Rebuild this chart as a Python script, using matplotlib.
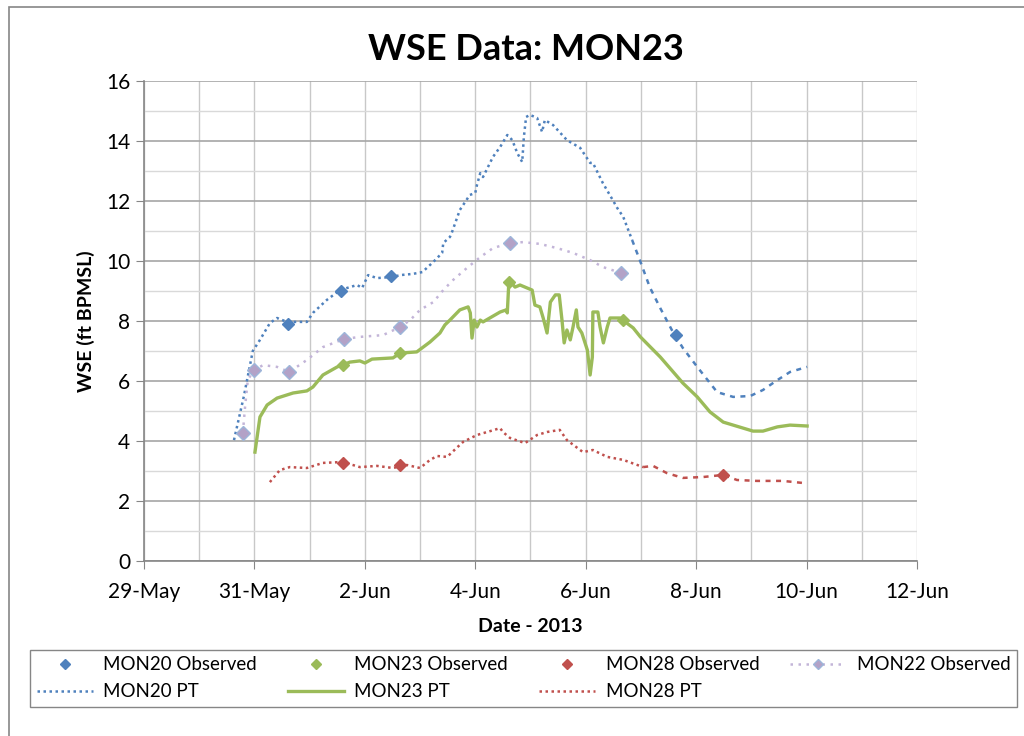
import numpy as np
import matplotlib
matplotlib.use("Agg")
import matplotlib.pyplot as plt
import matplotlib.dates as mdates
from matplotlib.ticker import FuncFormatter, MultipleLocator
from matplotlib.patches import Rectangle

plt.rcParams['font.family'] = ['Lato', 'DejaVu Sans']

# x values are days after 29-May-2013 00:00
base = np.datetime64('2013-05-29T00:00')

mon20_obs_x = [2.61, 3.57, 4.47, 9.64]
mon20_obs_y = [7.9, 9.0, 9.5, 7.53]
mon23_obs_x = [3.60, 4.64, 6.61, 8.68]
mon23_obs_y = [6.53, 6.93, 9.3, 8.03]
mon28_obs_x = [3.60, 4.64, 10.49]
mon28_obs_y = [3.27, 3.2, 2.87]
mon22_obs_x = [1.79, 1.99, 2.63, 3.62, 4.64, 6.63, 8.64]
mon22_obs_y = [4.27, 6.37, 6.3, 7.4, 7.8, 10.6, 9.6]

# smoothed connecting line of MON22 observed
mon22_line_x = [1.79, 1.83, 1.88, 1.99, 2.16, 2.41, 2.63, 2.95, 3.24, 3.62, 3.91, 4.33,
                4.64, 4.82, 5.00, 5.24, 5.42, 5.60, 5.85, 6.09, 6.32, 6.63, 6.87, 7.17,
                7.48, 7.77, 8.08, 8.31, 8.64]
mon22_line_y = [4.27, 5.13, 6.03, 6.37, 6.53, 6.47, 6.3, 6.7, 7.13, 7.4, 7.47, 7.53,
                7.8, 8.03, 8.37, 8.63, 9.03, 9.37, 9.77, 10.13, 10.43, 10.6, 10.63, 10.57,
                10.43, 10.27, 10.03, 9.8, 9.6]

mon20_pt_x = [1.63, 1.81, 1.97, 2.10, 2.28, 2.41, 2.59, 2.95, 3.06, 3.31, 3.55, 3.73,
              3.86, 3.95, 4.06, 4.22, 4.51, 4.64, 4.87, 5.04, 5.24, 5.40, 5.42, 5.54,
              5.58, 5.72, 5.90, 6.00, 6.03, 6.09, 6.14, 6.32, 6.45, 6.58, 6.67, 6.76,
              6.85, 6.88, 6.92, 6.99, 7.12, 7.21, 7.26, 7.41, 7.66, 7.90, 8.08, 8.13,
              8.31, 8.49, 8.57, 8.68, 8.84, 8.98, 9.16, 9.35, 9.56, 9.76, 10.02, 10.38,
              10.67, 10.98, 11.21, 11.47, 11.70, 12.01]
mon20_pt_y = [4.03, 5.5, 7.0, 7.37, 7.93, 8.1, 7.97, 7.97, 8.27, 8.7, 9.03, 9.13,
              9.2, 9.1, 9.53, 9.43, 9.47, 9.53, 9.57, 9.63, 9.97, 10.27, 10.6, 10.8,
              10.97, 11.7, 12.2, 12.27, 12.53, 12.93, 12.8, 13.47, 13.8, 14.2, 14.03, 13.6,
              13.3, 14.13, 14.8, 14.87, 14.77, 14.3, 14.7, 14.53, 14.03, 13.77, 13.27, 13.27,
              12.6, 12.03, 11.77, 11.47, 10.7, 10.03, 9.13, 8.43, 7.7, 7.1, 6.47, 5.63,
              5.47, 5.5, 5.7, 6.03, 6.3, 6.47]

mon23_pt_x = [2.01, 2.10, 2.23, 2.41, 2.70, 2.95, 3.06, 3.24, 3.50, 3.73, 3.91, 4.00,
              4.13, 4.51, 4.64, 4.94, 5.18, 5.36, 5.45, 5.54, 5.72, 5.87, 5.91, 5.94,
              5.98, 6.03, 6.09, 6.14, 6.45, 6.56, 6.58, 6.61, 6.72, 6.81, 7.03, 7.08,
              7.17, 7.23, 7.30, 7.36, 7.45, 7.52, 7.57, 7.61, 7.66, 7.72, 7.77, 7.83,
              7.86, 7.93, 8.03, 8.08, 8.12, 8.13, 8.22, 8.26, 8.32, 8.39, 8.44, 8.62,
              8.86, 8.99, 9.35, 9.76, 10.02, 10.25, 10.49, 10.85, 11.03, 11.21, 11.47,
              11.70, 12.01]
mon23_pt_y = [3.63, 4.8, 5.2, 5.43, 5.6, 5.67, 5.8, 6.2, 6.47, 6.63, 6.67, 6.6,
              6.73, 6.77, 6.93, 6.97, 7.3, 7.6, 7.87, 8.03, 8.37, 8.47, 8.27, 7.43,
              8.03, 7.8, 8.03, 7.97, 8.3, 8.37, 8.27, 9.37, 9.13, 9.2, 9.03, 8.53,
              8.47, 8.1, 7.6, 8.63, 8.87, 8.87, 8.03, 7.27, 7.7, 7.37, 7.8, 8.37,
              7.8, 7.6, 7.03, 6.2, 6.8, 8.3, 8.3, 7.8, 7.27, 7.8, 8.1, 8.1,
              7.77, 7.47, 6.8, 5.93, 5.47, 4.97, 4.63, 4.43, 4.33, 4.33, 4.47,
              4.53, 4.5]

mon28_pt_x = [2.28, 2.46, 2.64, 2.95, 3.24, 3.60, 3.91, 4.22, 4.51, 4.76, 5.00, 5.18,
              5.31, 5.49, 5.72, 5.78, 6.03, 6.27, 6.45, 6.50, 6.63, 6.90, 7.12, 7.30,
              7.53, 7.66, 7.95, 8.13, 8.39, 8.68, 9.04, 9.22, 9.47, 9.76, 10.13, 10.49,
              10.74, 11.10, 11.57, 11.94]
mon28_pt_y = [2.63, 3.03, 3.13, 3.1, 3.27, 3.3, 3.13, 3.17, 3.1, 3.2, 3.1, 3.37,
              3.5, 3.47, 3.87, 3.97, 4.2, 4.33, 4.43, 4.3, 4.1, 3.93, 4.2, 4.3,
              4.37, 4.03, 3.63, 3.7, 3.47, 3.37, 3.13, 3.17, 2.93, 2.77, 2.8, 2.87,
              2.7, 2.67, 2.67, 2.6]

# where the logger record gets sparse and the dotted line looks dashed
mon20_split = 52
mon28_split = 30

tick_days = [0, 2, 4, 6, 8, 10, 12, 14]


def to_dt(days):
    return base + np.round(np.array(days) * 1440).astype('timedelta64[m]')


blue = '#4F81BD'
green = '#9BBB59'
red = '#C0504D'
purple = '#B3A2C7'

fig = plt.figure(figsize=(10.24, 7.36), dpi=100)
ax = fig.add_axes([144 / 1024, 1 - 561 / 736, 773 / 1024, 480 / 736])

ax.set_axisbelow(True)

# PT lines
x20 = to_dt(mon20_pt_x)
l20, = ax.plot(x20[:mon20_split + 1], mon20_pt_y[:mon20_split + 1], color=blue, lw=1.8,
               linestyle=(0, (1, 1.4)), label='MON20 PT')
ax.plot(x20[mon20_split:], mon20_pt_y[mon20_split:], color=blue, lw=1.8,
        linestyle=(0, (2, 2.2)))
l23, = ax.plot(to_dt(mon23_pt_x), mon23_pt_y, color=green, lw=2.4, label='MON23 PT')
x28 = to_dt(mon28_pt_x)
l28, = ax.plot(x28[:mon28_split + 1], mon28_pt_y[:mon28_split + 1], color=red, lw=1.8,
               linestyle=(0, (1, 1.4)), label='MON28 PT')
ax.plot(x28[mon28_split:], mon28_pt_y[mon28_split:], color=red, lw=1.8,
        linestyle=(0, (2, 2.2)))
ax.plot(to_dt(mon22_line_x), mon22_line_y, color='#C3B5D8', lw=1.8,
        linestyle=(0, (1, 2.2)))

# observed points
o20, = ax.plot(to_dt(mon20_obs_x), mon20_obs_y, 'D', color=blue, ms=6.5,
               mec=blue, label='MON20 Observed')
o23, = ax.plot(to_dt(mon23_obs_x), mon23_obs_y, 'D', color=green, ms=6.5,
               mec=green, label='MON23 Observed')
o28, = ax.plot(to_dt(mon28_obs_x), mon28_obs_y, 'D', color=red, ms=6.5,
               mec=red, label='MON28 Observed')
o22, = ax.plot(to_dt(mon22_obs_x), mon22_obs_y, 'D', color=purple, ms=7,
               mec='#9DB6DA', mew=1)
h22, = ax.plot([], [], color='#C3B5D8', lw=1.8, linestyle=(0, (1, 2.2)),
               marker='D', ms=6.5, mfc=purple, mec='#9DB6DA', label='MON22 Observed')

# axes
ax.set_ylim(0, 16)
ax.yaxis.set_major_locator(MultipleLocator(2))
ax.yaxis.set_minor_locator(MultipleLocator(1))
ax.set_xlim(to_dt([0])[0], to_dt([14])[0])
ax.set_xticks(to_dt(tick_days))
ax.xaxis.set_minor_locator(mdates.DayLocator())


def fmt_date(v, pos):
    d = mdates.num2date(v)
    return '%d-%s' % (d.day, d.strftime('%b'))


ax.xaxis.set_major_formatter(FuncFormatter(fmt_date))

ax.grid(which='major', axis='y', color='#A6A6A6', lw=1.2)
ax.grid(which='minor', axis='y', color='#D9D9D9', lw=1.0)
ax.grid(which='both', axis='x', color='#C8C8C8', lw=1.0)

for s in ['top', 'right']:
    ax.spines[s].set_visible(False)
for s in ['left', 'bottom']:
    ax.spines[s].set_color('#868686')
    ax.spines[s].set_linewidth(1.2)
ax.tick_params(which='major', direction='out', length=6, color='#868686',
               labelsize=15, pad=4)
ax.tick_params(which='minor', length=0)
ax.tick_params(axis='x', pad=9)

ax.set_ylabel('WSE (ft BPMSL)', fontsize=14, fontweight='bold', labelpad=8)
ax.set_xlabel('Date - 2013', fontsize=14, fontweight='bold', labelpad=12)
fig.text(526 / 1024, 1 - 50 / 736, 'WSE Data: MON23', fontsize=26, fontweight='bold',
         ha='center', va='center')

handles = [o20, l20, o23, l23, o28, l28, h22]
fig.legend(handles, [h.get_label() for h in handles], loc='lower left',
           bbox_to_anchor=(30 / 1024, 1 - 707 / 736, 987 / 1024, 59 / 736),
           mode='expand', ncol=4, fontsize=13.5, frameon=True, fancybox=False,
           edgecolor='#868686', framealpha=1, borderaxespad=0, handlelength=3.0,
           handletextpad=0.55, markerscale=0.8, borderpad=0.35, labelspacing=0.55)

# outer chart border (cropped)
fig.patches.append(Rectangle((9 / 1024, -0.1), 1.2, 1.1 - 7 / 736, fill=False,
                             edgecolor='#868686', lw=1.2, transform=fig.transFigure,
                             figure=fig))

fig.savefig('out.png', dpi=100)
